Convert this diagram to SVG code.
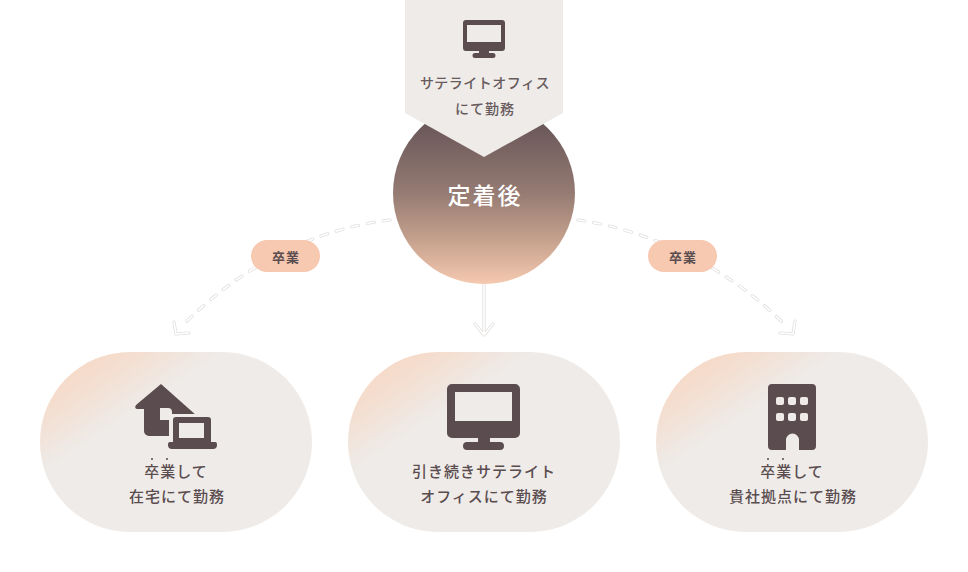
<svg xmlns="http://www.w3.org/2000/svg" width="968" height="572" viewBox="0 0 968 572">
<style>
text{font-family:"Noto Sans CJK JP","Noto Sans",sans-serif;text-anchor:middle;fill:#5a4c4f}
.t{font-size:15px;letter-spacing:1px;font-weight:500}
.s{font-size:14px;letter-spacing:.5px;font-weight:500}
.b{font-size:13px;font-weight:700;letter-spacing:1px}
.ic{fill:#5a4c4f}
.bg{fill:#eeebe8}
.o{fill:none;stroke:#e2e0de;stroke-width:3.2;stroke-linecap:round;stroke-linejoin:round}
.i{fill:none;stroke:#fff;stroke-width:1.6;stroke-linecap:round;stroke-linejoin:round}
.d{stroke-dasharray:7 9}
.badge{fill:#f6c9b0}
</style>
<defs>
<linearGradient id="c" x1="0" y1="0" x2="0" y2="1"><stop offset="0" stop-color="#5c4c50"/><stop offset=".5" stop-color="#957b73"/><stop offset=".75" stop-color="#c4a08c"/><stop offset="1" stop-color="#f5c9b0"/></linearGradient>
<linearGradient id="p" x1="0" y1="0" x2="1" y2="1"><stop offset="0" stop-color="#f7d6c0"/><stop offset=".15" stop-color="#f5dccc"/><stop offset=".34" stop-color="#eeebe8"/></linearGradient>
</defs>
<g id="connectors">
<path class="o d" d="M390 220C320 228 245 262 182 326"/><path class="i d" d="M390 220C320 228 245 262 182 326"/>
<path class="o" d="M174 322L176 334L189 333"/><path class="i" d="M174 322L176 334L189 333"/>
<path class="o d" d="M578 220C650 230 730 268 786 326"/><path class="i d" d="M578 220C650 230 730 268 786 326"/>
<path class="o" d="M795 321L793 334L780 333"/><path class="i" d="M795 321L793 334L780 333"/>
<path class="o" d="M484 284V335M475 324L484 335L493 324"/><path class="i" d="M484 284V335M475 324L484 335L493 324"/>
</g>
<g id="node-center">
<circle cx="484" cy="193" r="91" fill="url(#c)"/>
<text x="485" y="204" style="font-size:23px;letter-spacing:2px;fill:#fff;font-weight:500">定着後</text>
</g>
<g id="node-top">
<path class="bg" d="M405 0H563V113L484 157L405 113Z"/>
<path class="ic" fill-rule="evenodd" d="M466 20H502a3 3 0 0 1 3 3V48a3 3 0 0 1-3 3H489V53H493a2.500 2.500 0 0 1 0 5H475a2.500 2.500 0 0 1 0-5H479V51H466a3 3 0 0 1-3-3V23a3 3 0 0 1 3-3ZM467 25V42H501V25Z"/>
<text class="s" x="485" y="88" style="opacity:.9">サテライトオフィス</text>
<text class="s" x="485" y="114" style="opacity:.9;letter-spacing:1px">にて勤務</text>
</g>
<g id="badge-left"><rect class="badge" x="251" y="240" width="69" height="32" rx="16"/><text class="b" x="286" y="262">卒業</text></g>
<g id="badge-right"><rect class="badge" x="648" y="240" width="69" height="32" rx="16"/><text class="b" x="683" y="262">卒業</text></g>
<g id="node-home">
<rect x="40" y="352" width="272" height="180" rx="90" fill="url(#p)"/>
<path class="ic" d="M161 384L197 416V436H149A5 5 0 0 1 144 431V409H137Q134 408 136 405Z"/>
<path class="bg" d="M160 408H168A4 4 0 0 1 172 412V414H214V445H169V420H160Z"/>
<path class="ic" fill-rule="evenodd" d="M176 417H208a3 3 0 0 1 3 3V442H215a2 2 0 0 1 2 2V445a4 4 0 0 1-4 4H172a4 4 0 0 1-4-4V444a2 2 0 0 1 2-2H173V420a3 3 0 0 1 3-3ZM179 423V438H204V423Z"/>
<circle class="ic" cx="152" cy="459" r="1"/><circle class="ic" cx="167" cy="459" r="1"/>
<text class="t" x="176" y="477">卒業して</text>
<text class="t" x="177" y="502">在宅にて勤務</text>
</g>
<g id="node-monitor">
<rect x="348" y="352" width="272" height="180" rx="90" fill="url(#p)"/>
<path class="ic" fill-rule="evenodd" d="M452 384H515a5 5 0 0 1 5 5V433a5 5 0 0 1-5 5H490V442H500a4 4 0 0 1 0 8H467a4 4 0 0 1 0-8H478V438H452a5 5 0 0 1-5-5V389a5 5 0 0 1 5-5ZM455 392V421H512V392Z"/>
<text class="t" x="484" y="477">引き続きサテライト</text>
<text class="t" x="484" y="502">オフィスにて勤務</text>
</g>
<g id="node-building">
<rect x="656" y="352" width="272" height="180" rx="90" fill="url(#p)"/>
<path class="ic" d="M772 384H812a4 4 0 0 1 4 4V446a4 4 0 0 1-4 4H799V440a6.500 6.500 0 0 0-13 0V450H772a4 4 0 0 1-4-4V388a4 4 0 0 1 4-4Z"/>
<g class="bg"><rect x="776" y="397" width="8" height="8" rx="2"/><rect x="788" y="397" width="8" height="8" rx="2"/><rect x="800" y="397" width="8" height="8" rx="2"/><rect x="776" y="413" width="8" height="8" rx="2"/><rect x="788" y="413" width="8" height="8" rx="2"/><rect x="800" y="413" width="8" height="8" rx="2"/></g>
<circle class="ic" cx="768" cy="459" r="1"/><circle class="ic" cx="783" cy="459" r="1"/>
<text class="t" x="792" y="477">卒業して</text>
<text class="t" x="793" y="502">貴社拠点にて勤務</text>
</g>
</svg>
